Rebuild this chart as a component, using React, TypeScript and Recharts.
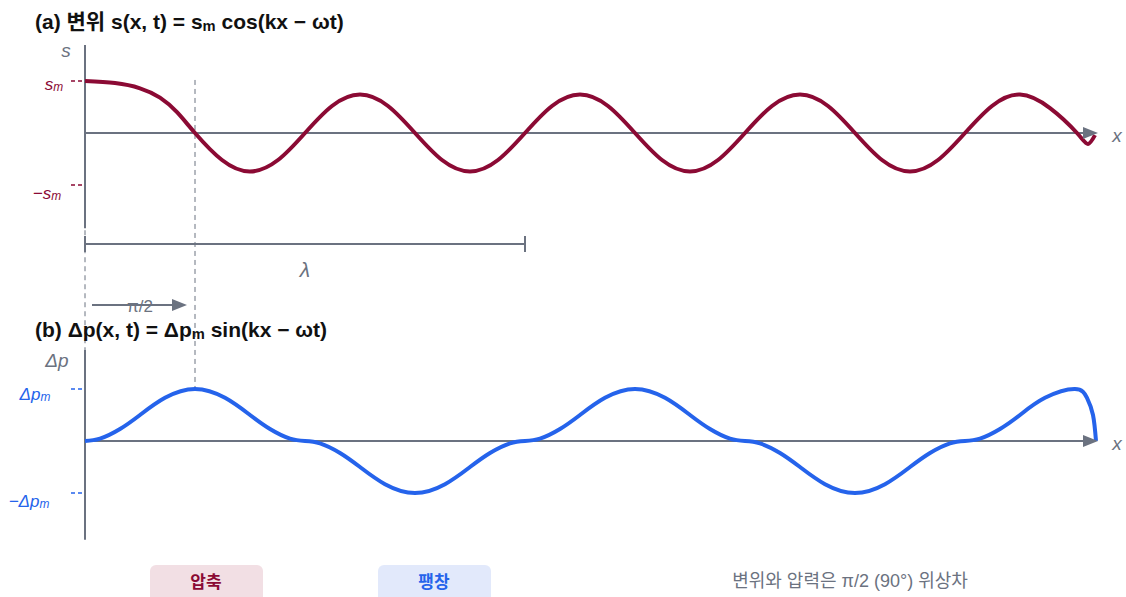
import React from 'react';
import { ComposedChart, Line, XAxis, YAxis, ReferenceLine, ReferenceDot } from 'recharts';

// displacement s(x,t): x in px offset from the y axis, value in units of s_m
const sX = [0, 30, 55, 75, 92, 110, 137, 165, 193, 220, 247, 275, 303, 330, 357, 385, 413, 440, 467, 495, 523, 550, 577, 605, 633, 660, 687, 715, 743, 770, 797, 825, 853, 880, 907, 935, 965, 992, 1003, 1010];
const sVals = [1, 0.96, 0.86, 0.68, 0.4, 0, -0.52, -0.74, -0.52, 0, 0.52, 0.74, 0.52, 0, -0.52, -0.74, -0.52, 0, 0.52, 0.74, 0.52, 0, -0.52, -0.74, -0.52, 0, 0.52, 0.74, 0.52, 0, -0.52, -0.74, -0.52, 0, 0.52, 0.74, 0.48, 0, -0.21, -0.04];

// pressure Δp(x,t): value in units of Δp_m
const pX = [0, 15, 35, 55, 80, 110, 140, 165, 185, 205, 220, 235, 255, 275, 300, 330, 360, 385, 405, 425, 440, 455, 475, 495, 520, 550, 580, 605, 625, 645, 660, 675, 695, 715, 740, 770, 800, 825, 845, 865, 880, 895, 915, 935, 960, 990, 1002, 1008, 1011];
const pVals = [0, 0.045, 0.23, 0.5, 0.83, 1, 0.83, 0.5, 0.23, 0.045, 0, -0.045, -0.23, -0.5, -0.83, -1, -0.83, -0.5, -0.23, -0.045, 0, 0.045, 0.23, 0.5, 0.83, 1, 0.83, 0.5, 0.23, 0.045, 0, -0.045, -0.23, -0.5, -0.83, -1, -0.83, -0.5, -0.23, -0.045, 0, 0.045, 0.23, 0.5, 0.83, 1, 0.83, 0.5, 0];

const RED = '#8b0a34';
const BLUE = '#2563eb';
const GRAY = '#6b7280';
const FONT = '"Liberation Sans", Arial, "Noto Sans CJK KR", sans-serif';

const W = 1126;
const H = 597;

const sData = sX.map((x, i) => ({ x, s: sVals[i] }));
const pData = pX.map((x, i) => ({ x, p: pVals[i] }));

const ArrowHead = (props: any) => {
  const { cx, cy } = props;
  if (cx == null || cy == null) return null;
  return <path d={`M${cx - 15},${cy - 6} L${cx},${cy} L${cx - 15},${cy + 6} Z`} fill={GRAY} />;
};

const abs = (left: number, top: number, extra: React.CSSProperties = {}): React.CSSProperties => ({
  position: 'absolute',
  left,
  top,
  whiteSpace: 'nowrap',
  lineHeight: 1,
  fontFamily: FONT,
  ...extra,
});

const centered = (cx: number, cy: number, extra: React.CSSProperties = {}) =>
  abs(cx, cy, { transform: 'translate(-50%, -50%)', ...extra });

const sub = { fontSize: '0.7em', verticalAlign: '-0.15em' };

export default function App() {
  return (
    <div style={{ position: 'absolute', left: 0, top: 0, width: W, height: H, background: '#fff', overflow: 'hidden' }}>
      <ComposedChart width={W} height={H} margin={{ top: 0, right: 0, bottom: 0, left: 0 }}>
        <XAxis dataKey="x" type="number" domain={[-85, 1041]} hide allowDataOverflow />
        <YAxis yAxisId="s" type="number" domain={[(133 - 597) / 52, 133 / 52]} hide allowDataOverflow />
        <YAxis yAxisId="p" type="number" domain={[(441 - 597) / 52, 441 / 52]} hide allowDataOverflow />

        {/* panel (a) axes */}
        <ReferenceLine yAxisId="s" segment={[{ x: 0, y: 1.69 }, { x: 0, y: -1.83 }]} stroke={GRAY} strokeWidth={2} />
        <ReferenceLine yAxisId="s" segment={[{ x: 0, y: 0 }, { x: 1000, y: 0 }]} stroke={GRAY} strokeWidth={2} />
        <ReferenceDot yAxisId="s" x={1013} y={0} r={0} shape={ArrowHead} />
        <ReferenceLine yAxisId="s" segment={[{ x: -14, y: 1 }, { x: -2, y: 1 }]} stroke={RED} strokeWidth={1.5} strokeDasharray="4 3" />
        <ReferenceLine yAxisId="s" segment={[{ x: -14, y: -1 }, { x: -2, y: -1 }]} stroke={RED} strokeWidth={1.5} strokeDasharray="4 3" />

        {/* guide lines */}
        <ReferenceLine yAxisId="s" segment={[{ x: 110, y: 1.02 }, { x: 110, y: -4.92 }]} stroke={GRAY} strokeWidth={1} strokeDasharray="5 4" />
        <ReferenceLine yAxisId="s" segment={[{ x: 0, y: -1.87 }, { x: 0, y: -4.21 }]} stroke={GRAY} strokeWidth={1} strokeDasharray="5 4" />

        {/* wavelength bracket */}
        <ReferenceLine yAxisId="s" segment={[{ x: 0, y: -2.135 }, { x: 440, y: -2.135 }]} stroke={GRAY} strokeWidth={2} />
        <ReferenceLine yAxisId="s" segment={[{ x: 0, y: -1.98 }, { x: 0, y: -2.29 }]} stroke={GRAY} strokeWidth={2} />
        <ReferenceLine yAxisId="s" segment={[{ x: 440, y: -1.98 }, { x: 440, y: -2.29 }]} stroke={GRAY} strokeWidth={2} />

        {/* phase shift arrow */}
        <ReferenceLine yAxisId="s" segment={[{ x: 7, y: -3.308 }, { x: 90, y: -3.308 }]} stroke={GRAY} strokeWidth={2} />
        <ReferenceDot yAxisId="s" x={102} y={-3.308} r={0} shape={ArrowHead} />

        {/* panel (b) axes */}
        <ReferenceLine yAxisId="p" segment={[{ x: 0, y: 1.75 }, { x: 0, y: -1.9 }]} stroke={GRAY} strokeWidth={2} />
        <ReferenceLine yAxisId="p" segment={[{ x: 0, y: 0 }, { x: 1000, y: 0 }]} stroke={GRAY} strokeWidth={2} />
        <ReferenceDot yAxisId="p" x={1013} y={0} r={0} shape={ArrowHead} />
        <ReferenceLine yAxisId="p" segment={[{ x: -14, y: 1 }, { x: -2, y: 1 }]} stroke={BLUE} strokeWidth={1.5} strokeDasharray="4 3" />
        <ReferenceLine yAxisId="p" segment={[{ x: -14, y: -1 }, { x: -2, y: -1 }]} stroke={BLUE} strokeWidth={1.5} strokeDasharray="4 3" />

        <Line data={sData} yAxisId="s" dataKey="s" type="natural" stroke={RED} strokeWidth={4} dot={false} activeDot={false} isAnimationActive={false} />
        <Line data={pData} yAxisId="p" dataKey="p" type="natural" stroke={BLUE} strokeWidth={4} dot={false} activeDot={false} isAnimationActive={false} />
      </ComposedChart>

      {/* titles */}
      <div style={abs(35, 11, { fontSize: 21, fontWeight: 700, color: '#111' })}>
        (a) 변위 s(x, t) = s<sub style={sub}>m</sub> cos(kx − ωt)
      </div>
      <div style={abs(35, 319, { fontSize: 21, fontWeight: 700, color: '#111' })}>
        (b) Δp(x, t) = Δp<sub style={sub}>m</sub> sin(kx − ωt)
      </div>

      {/* axis labels */}
      <div style={centered(66, 50, { fontSize: 19, fontStyle: 'italic', color: GRAY })}>s</div>
      <div style={centered(54, 85, { fontSize: 17, fontStyle: 'italic', color: RED })}>
        s<sub style={sub}>m</sub>
      </div>
      <div style={centered(47, 194, { fontSize: 17, fontStyle: 'italic', color: RED })}>
        −s<sub style={sub}>m</sub>
      </div>
      <div style={centered(1117, 135, { fontSize: 19, fontStyle: 'italic', color: GRAY })}>x</div>
      <div style={centered(305, 269, { fontSize: 21, fontStyle: 'italic', color: GRAY })}>λ</div>
      <div style={centered(140, 306, { fontSize: 17, color: GRAY })}>π/2</div>

      <div style={centered(57, 360, { fontSize: 19, fontStyle: 'italic', color: GRAY })}>Δp</div>
      <div style={centered(35, 395, { fontSize: 17, fontStyle: 'italic', color: BLUE })}>
        Δp<sub style={sub}>m</sub>
      </div>
      <div style={centered(29, 502, { fontSize: 17, fontStyle: 'italic', color: BLUE })}>
        −Δp<sub style={sub}>m</sub>
      </div>
      <div style={centered(1117, 443, { fontSize: 19, fontStyle: 'italic', color: GRAY })}>x</div>

      {/* legend */}
      <div style={abs(150, 565, { width: 113, height: 44, background: '#f2dfe4', borderRadius: 6 })} />
      <div style={centered(206, 582, { fontSize: 17, fontWeight: 700, color: RED })}>압축</div>
      <div style={abs(378, 565, { width: 113, height: 44, background: '#e2e9fb', borderRadius: 6 })} />
      <div style={centered(434, 582, { fontSize: 17, fontWeight: 700, color: BLUE })}>팽창</div>
      <div style={centered(850, 581, { fontSize: 18, color: GRAY })}>변위와 압력은 π/2 (90°) 위상차</div>
    </div>
  );
}
